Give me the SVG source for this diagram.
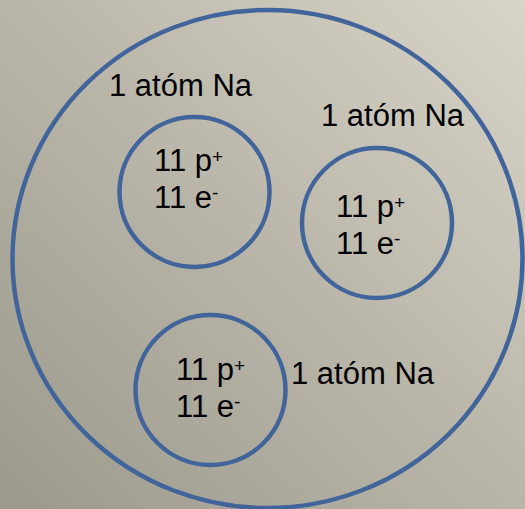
<svg xmlns="http://www.w3.org/2000/svg" width="525" height="509" viewBox="0 0 525 509">
<defs>
<linearGradient id="bg" x1="0" y1="1" x2="1" y2="0">
<stop offset="0" stop-color="#9b988c"/>
<stop offset="0.5" stop-color="#b9b6a9"/>
<stop offset="1" stop-color="#d8d5c8"/>
</linearGradient>
<style>
.ring{fill:none;stroke:#41659a;stroke-width:4.5}
.t{font-family:"Liberation Sans",Arial,sans-serif;font-size:31px;fill:#000}
.s{font-size:19px}
</style>
</defs>
<rect width="525" height="509" fill="url(#bg)"/>
<g id="molecule">
<ellipse class="ring" cx="267.5" cy="259" rx="255" ry="249"/>
</g>
<g id="atom1">
<circle class="ring" cx="194.5" cy="192" r="75"/>
<text class="t" x="109" y="96">1 atóm Na</text>
<text class="t" x="154" y="171">11 p<tspan class="s" dy="-8">+</tspan></text>
<text class="t" x="154" y="208">11 e<tspan class="s" dy="-9">-</tspan></text>
</g>
<g id="atom2">
<circle class="ring" cx="377" cy="223" r="75"/>
<text class="t" x="321" y="126">1 atóm Na</text>
<text class="t" x="336" y="217">11 p<tspan class="s" dy="-8">+</tspan></text>
<text class="t" x="336" y="254">11 e<tspan class="s" dy="-9">-</tspan></text>
</g>
<g id="atom3">
<circle class="ring" cx="210.5" cy="390" r="75"/>
<text class="t" x="291" y="384">1 atóm Na</text>
<text class="t" x="176" y="380">11 p<tspan class="s" dy="-8">+</tspan></text>
<text class="t" x="176" y="417">11 e<tspan class="s" dy="-9">-</tspan></text>
</g>
<g id="connectors"/>
</svg>
